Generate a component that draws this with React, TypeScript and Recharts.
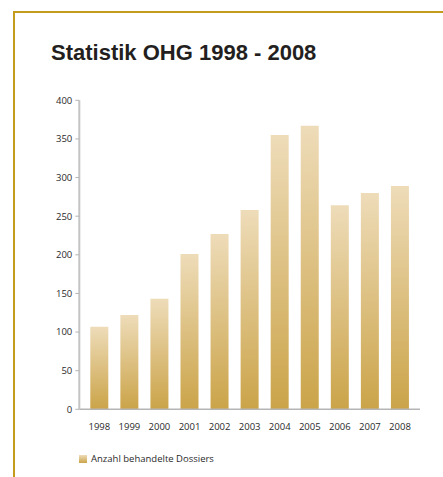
import React from 'react';
import { BarChart, Bar, XAxis, YAxis, Legend } from 'recharts';

const years = ['1998', '1999', '2000', '2001', '2002', '2003', '2004', '2005', '2006', '2007', '2008'];
const dossiers = [107, 122, 143, 201, 227, 258, 355, 367, 264, 280, 289];
const yTicks = [0, 50, 100, 150, 200, 250, 300, 350, 400];

const data = years.map((y, i) => ({ year: y, value: dossiers[i] }));

const FONT = '"Open Sans", "Liberation Sans", sans-serif';

export default function App() {
  return (
    <div style={{ position: 'absolute', left: 0, top: 0, width: 443, height: 477, background: '#fff', overflow: 'hidden' }}>
      <style>{'html,body{margin:0;padding:0;overflow:hidden;}'}</style>
      <div
        style={{
          position: 'absolute',
          left: 13,
          top: 11,
          width: 443,
          height: 477,
          borderTop: '2px solid #c59b1b',
          borderLeft: '2px solid #c59b1b',
        }}
      />
      <div
        style={{
          position: 'absolute',
          left: 51,
          top: 40,
          fontFamily: '"Liberation Sans", Arial, sans-serif',
          fontWeight: 'bold',
          fontSize: 22,
          lineHeight: '26px',
          color: '#231f20',
          whiteSpace: 'nowrap',
        }}
      >
        Statistik OHG 1998 - 2008
      </div>
      <div style={{ position: 'absolute', left: 0, top: 0 }}>
        <BarChart width={443} height={477} data={data} margin={{ top: 100.3, right: 23, bottom: 23.7, left: 49.3 }}>
          <defs>
            <linearGradient id="barGrad" x1="0" y1="0" x2="0" y2="1">
              <stop offset="0%" stopColor="#eedcb9" />
              <stop offset="100%" stopColor="#cba449" />
            </linearGradient>
          </defs>
          <XAxis
            dataKey="year"
            height={30}
            tickLine={false}
            tickMargin={8}
            axisLine={{ stroke: '#b5b5b5', strokeWidth: 1.5 }}
            padding={{ left: 5, right: 5 }}
            tick={{ fill: '#2a2a2a', fontSize: 9.5, fontFamily: FONT }}
            interval={0}
          />
          <YAxis
            width={30}
            domain={[0, 400]}
            ticks={yTicks}
            interval={0}
            tickSize={4}
            tickMargin={3}
            axisLine={{ stroke: '#c4c4c4', strokeWidth: 2 }}
            tickLine={{ stroke: '#b5b5b5' }}
            tick={{ fill: '#2a2a2a', fontSize: 9.5, fontFamily: FONT }}
          />
          <Legend
            verticalAlign="bottom"
            align="left"
            iconType="square"
            iconSize={8}
            wrapperStyle={{ left: 79, top: 452, height: 14, lineHeight: '14px', fontSize: 9.5, fontFamily: FONT, width: 'auto' }}
            formatter={(v: string) => <span style={{ color: '#2a2a2a' }}>{v}</span>}
          />
          <Bar
            dataKey="value"
            name="Anzahl behandelte Dossiers"
            fill="url(#barGrad)"
            barSize={18}
            isAnimationActive={false}
            legendType="square"
          />
        </BarChart>
      </div>
    </div>
  );
}
